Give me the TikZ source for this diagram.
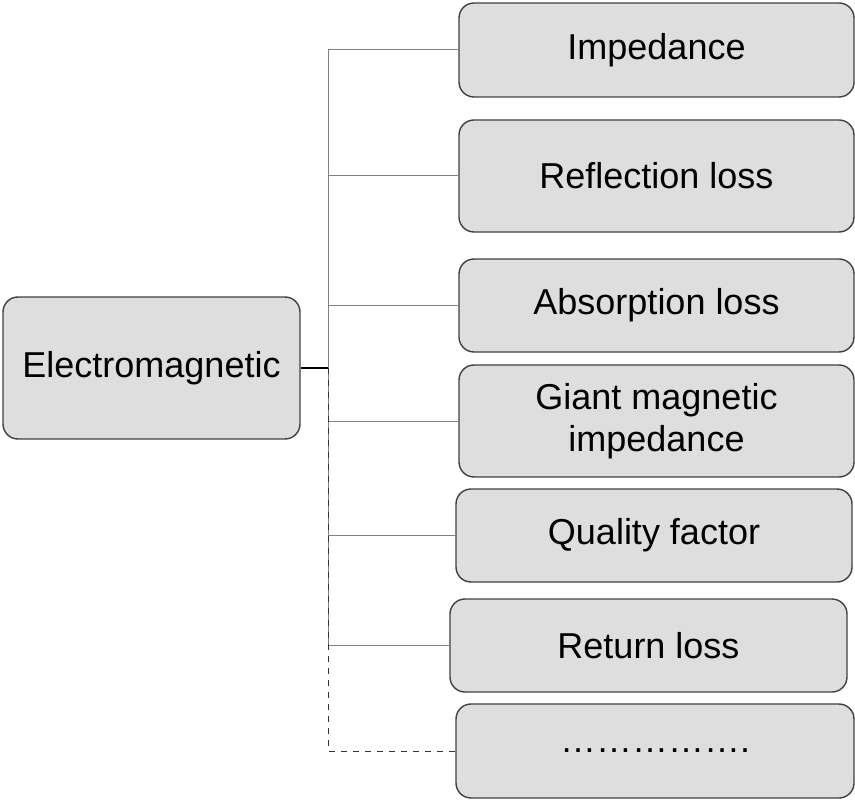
\documentclass[tikz,border=0pt]{standalone}
\usepackage{fontspec}
\setmainfont{Liberation Sans}
\usepackage{tikz}
\usetikzlibrary{positioning}

\begin{document}
\begin{tikzpicture}[x=0.5pt,y=-0.5pt,
	box/.style={draw=black!75,fill=black!13,rounded corners=7.5pt,line width=0.7pt,inner sep=0pt,align=center,font=\fontsize{18}{21}\selectfont},
	conn/.style={draw=black!50,line width=0.5pt}]
\useasboundingbox (0,0) rectangle (855,801);
\node [box,minimum width=148.5pt,minimum height=71pt] (r) at (151.5,368) {Electromagnetic};
\node [box,minimum width=197.5pt,minimum height=47pt] (a) at (656.5,50) {Impedance};
\node [box,minimum width=197.5pt,minimum height=56pt] (b) at (656.5,176) {Reflection loss};
\node [box,minimum width=197.5pt,minimum height=46.5pt] (c) at (656.5,305.5) {Absorption loss};
\node [box,minimum width=197.5pt,minimum height=56pt] (d) at (656.5,421) {Giant magnetic\\impedance};
\node [box,minimum width=198pt,minimum height=46.5pt] (e) at (654,535.5) {Quality factor};
\node [box,minimum width=198.5pt,minimum height=46.5pt] (f) at (648.5,645.5) {Return loss};
\node [box,minimum width=199pt,minimum height=47pt] (g) at (655,751) {…………….};
\coordinate (j) at (328,368);
\draw [conn] (a.west -| j) -- (f.west -| j);
\foreach \n in {a,b,c,d,e,f}
	\draw [conn] (\n.west) -- (\n.west -| j);
\draw [black!80,line width=0.5pt,dashed] (j) |- (g.west);
\draw [black,line width=0.6pt] (r.east) -- (j);
\end{tikzpicture}
\end{document}
